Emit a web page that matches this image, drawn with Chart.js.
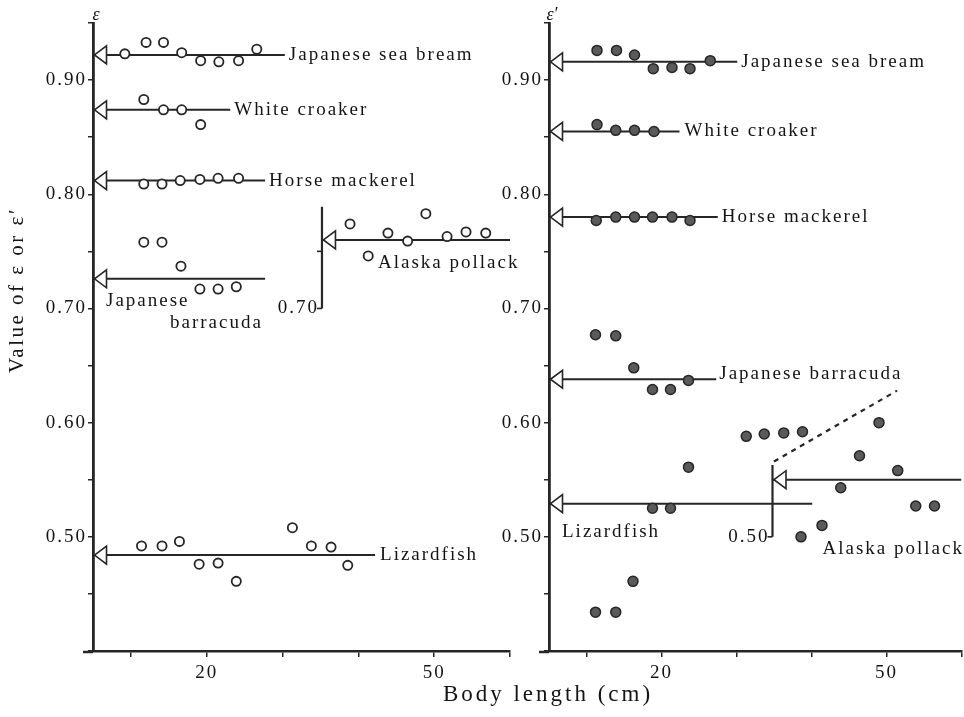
<!DOCTYPE html>
<html>
<head>
<meta charset="utf-8">
<script src="https://cdn.jsdelivr.net/npm/chart.js@4.4.1/dist/chart.umd.min.js"></script>
<style>
  html, body { margin: 0; padding: 0; background: #fff; overflow: hidden; }
  #wrap { position: relative; width: 964px; height: 717px; overflow: hidden; }
  #wrap canvas { position: absolute; left: 0; top: 0; }
</style>
</head>
<body>
<div id="wrap">
  <canvas id="panelE" width="964" height="717"></canvas>
  <canvas id="panelEP" width="968" height="717"></canvas>
</div>
<script>
// ---- axis ticks ----
const lengthTicks = [10, 20, 30, 40, 50, 60];
const lengthLabels = [20, 50];
const epsTicks = [0.40, 0.45, 0.50, 0.55, 0.60, 0.65, 0.70, 0.75, 0.80, 0.85, 0.90, 0.95];
const epsLabels = [0.50, 0.60, 0.70, 0.80, 0.90];

// ---- species (same order in every array below) ----
const species = ['Japanese sea bream', 'White croaker', 'Horse mackerel',
                 'Japanese barracuda', 'Alaska pollack', 'Lizardfish'];

// ---- ε : body length (cm) and value, open circles ----
const eSeaBreamLen = [9.2, 12.0, 14.3, 16.7, 19.2, 21.6, 24.2, 26.6];
const eSeaBream    = [0.923, 0.933, 0.933, 0.924, 0.917, 0.916, 0.917, 0.927];
const eCroakerLen  = [11.7, 14.3, 16.7, 19.2];
const eCroaker     = [0.883, 0.874, 0.874, 0.861];
const eMackerelLen = [11.7, 14.1, 16.5, 19.1, 21.5, 24.2];
const eMackerel    = [0.809, 0.809, 0.812, 0.813, 0.814, 0.814];
const eBarracudaLen = [11.7, 14.1, 16.6, 19.1, 21.5, 23.9];
const eBarracuda    = [0.758, 0.758, 0.737, 0.717, 0.717, 0.719];
const ePollackLen  = [38.9, 41.3, 43.9, 46.5, 48.9, 51.7, 54.2, 56.8];
const ePollack     = [0.774, 0.746, 0.766, 0.759, 0.783, 0.763, 0.767, 0.766];
const eLizardLen   = [11.4, 14.1, 16.4, 19.0, 21.5, 23.9, 31.3, 33.8, 36.4, 38.6];
const eLizard      = [0.492, 0.492, 0.496, 0.476, 0.477, 0.461, 0.508, 0.492, 0.491, 0.475];
// mean ε per species and the body-length span of its reference line
const eMean     = [0.922, 0.874, 0.812, 0.726, 0.760, 0.484];
const eLineFrom = [5, 5, 5, 5, 35.2, 5];
const eLineTo   = [30.3, 23.1, 27.7, 27.7, 60, 42.2];
// Alaska pollack sub-axis (cm, from, to) and its ticks
const eSubAxis  = [35.2, 0.70, 0.789];
const eSubTicks = [0.70, 0.75];

// ---- ε′ : body length (cm) and value, filled circles ----
const pSeaBreamLen = [11.4, 14.0, 16.4, 18.9, 21.4, 23.8, 26.5];
const pSeaBream    = [0.926, 0.926, 0.922, 0.910, 0.911, 0.910, 0.917];
const pCroakerLen  = [11.4, 13.9, 16.4, 19.0];
const pCroaker     = [0.861, 0.856, 0.856, 0.855];
const pMackerelLen = [11.3, 13.9, 16.4, 18.8, 21.4, 23.8];
const pMackerel    = [0.777, 0.780, 0.780, 0.780, 0.780, 0.777];
const pBarracudaLen = [11.2, 13.9, 16.3, 18.8, 21.2, 23.6];
const pBarracuda    = [0.677, 0.676, 0.648, 0.629, 0.629, 0.637];
const pPollackLen  = [38.6, 41.4, 43.9, 46.4, 49.0, 51.5, 53.9, 56.4];
const pPollack     = [0.500, 0.510, 0.543, 0.571, 0.600, 0.558, 0.527, 0.527];
const pLizardLen   = [11.2, 13.9, 16.2, 18.8, 21.2, 23.6, 31.3, 33.7, 36.3, 38.8];
const pLizard      = [0.434, 0.434, 0.461, 0.525, 0.525, 0.561, 0.588, 0.590, 0.591, 0.592];
const pMean     = [0.916, 0.855, 0.780, 0.638, 0.550, 0.529];
const pLineFrom = [5, 5, 5, 5, 34.8, 5];
const pLineTo   = [30.1, 22.4, 27.5, 27.3, 60, 40.1];
const pSubAxis  = [34.8, 0.50, 0.563];
const pSubTicks = [0.50];
// dashed continuation of the Alaska pollack sub-axis
const pDashLen  = [35.0, 51.4];
const pDashVal  = [0.566, 0.628];

const INK = '#262626';
const TEXT = '#141414';
const SERIF = "'Liberation Serif', 'Times New Roman', serif";
Chart.defaults.font.family = SERIF;
Chart.defaults.font.size = 19;
Chart.defaults.color = TEXT;

const pts = (xs, ys) => xs.map((v, i) => ({ x: v, y: ys[i] }));
const isLabelled = (list, v) => list.some(l => Math.abs(l - v) < 1e-6);

// wide, spaced lettering for every text on the canvas
const spacing = {
  id: 'spacing',
  beforeDraw(chart) { chart.ctx.letterSpacing = '2px'; }
};

// arrow heads on the reference lines, species names, sub-axis ticks, titles
const annotate = {
  id: 'annotate',
  afterDatasetsDraw(chart, args, o) {
    const { ctx, chartArea, scales: { x, y } } = chart;
    ctx.save();
    ctx.letterSpacing = '2px';
    ctx.strokeStyle = INK;
    ctx.fillStyle = TEXT;

    // length axis runs a little past the value axis
    ctx.lineWidth = 2.5;
    ctx.beginPath();
    ctx.moveTo(chartArea.left - 10, chartArea.bottom + 1);
    ctx.lineTo(chartArea.left, chartArea.bottom + 1);
    ctx.stroke();

    // sub-axis ticks and its label
    const sx = x.getPixelForValue(o.sub[0]);
    ctx.lineWidth = 1.6;
    o.subTicks.forEach(t => {
      const ty = y.getPixelForValue(t);
      ctx.beginPath(); ctx.moveTo(sx - 5, ty); ctx.lineTo(sx, ty); ctx.stroke();
    });
    ctx.font = '19px ' + SERIF;
    ctx.textAlign = 'right';
    ctx.textBaseline = 'middle';
    ctx.fillText(o.subTicks[0].toFixed(2), sx - 3, y.getPixelForValue(o.subTicks[0]));

    // open arrow heads at the start of each reference line
    ctx.lineWidth = 1.6;
    o.mean.forEach((m, i) => {
      const px = x.getPixelForValue(o.from[i]) + 1.5, py = y.getPixelForValue(m);
      ctx.beginPath();
      ctx.moveTo(px, py);
      ctx.lineTo(px + 12, py - 9);
      ctx.lineTo(px + 12, py + 9);
      ctx.closePath();
      ctx.fillStyle = '#fff'; ctx.fill();
      ctx.stroke();
    });

    // species names
    ctx.fillStyle = TEXT;
    ctx.textAlign = 'left';
    o.labels.forEach(([text, i, anchor, dx, dy]) => {
      const ax = anchor === 'end' ? o.to[i] : o.from[i];
      ctx.fillText(text, x.getPixelForValue(ax) + dx, y.getPixelForValue(o.mean[i]) + dy);
    });

    // symbol at the top of the value axis
    ctx.font = 'italic 18px ' + SERIF;
    ctx.textAlign = 'center';
    ctx.letterSpacing = '0px';
    ctx.fillText(o.symbol, chartArea.left + 3, chartArea.top - 8);

    if (o.titles) {
      ctx.font = '23px ' + SERIF;
      ctx.letterSpacing = '3px';
      ctx.textAlign = 'center';
      ctx.fillText('Body length (cm)', 548, 695);
      ctx.save();
      ctx.translate(17, 290);
      ctx.rotate(-Math.PI / 2);
      ctx.font = '21px ' + SERIF;
      ctx.letterSpacing = '2.5px';
      ctx.fillText('Value of \u03b5 or \u03b5\u2032', 0, 0);
      ctx.restore();
    }
    ctx.restore();
  }
};

function panel(canvasId, p) {
  const datasets = [];
  p.series.forEach(([xs, ys], i) => datasets.push({
    label: species[i], data: pts(xs, ys), order: 1, showLine: false,
    pointRadius: p.radius, pointBackgroundColor: p.fill, backgroundColor: p.fill,
    pointBorderColor: INK, borderColor: INK, pointBorderWidth: p.edge
  }));
  p.mean.forEach((m, i) => datasets.push({
    label: species[i] + ' mean', data: [{ x: p.from[i], y: m }, { x: p.to[i], y: m }],
    order: 2, showLine: true, pointRadius: 0, borderColor: INK, borderWidth: 2
  }));
  datasets.push({
    label: 'sub-axis', data: [{ x: p.sub[0], y: p.sub[1] }, { x: p.sub[0], y: p.sub[2] }],
    order: 3, showLine: true, pointRadius: 0, borderColor: INK, borderWidth: 2.2
  });
  if (p.dash) datasets.push({
    label: 'sub-axis break', data: pts(p.dash[0], p.dash[1]),
    order: 3, showLine: true, pointRadius: 0, borderColor: INK, borderWidth: 2.2, borderDash: [5, 5]
  });

  return new Chart(document.getElementById(canvasId), {
    type: 'scatter',
    data: { datasets },
    plugins: [spacing, annotate],
    options: {
      responsive: false,
      animation: false,
      events: [],
      layout: { padding: p.padding },
      plugins: {
        legend: { display: false },
        tooltip: { enabled: false },
        annotate: {
          mean: p.mean, from: p.from, to: p.to, sub: p.sub, subTicks: p.subTicks,
          labels: p.labels, symbol: p.symbol, titles: p.titles
        }
      },
      scales: {
        x: {
          type: 'linear', min: 5, max: 60,
          afterBuildTicks: s => { s.ticks = lengthTicks.map(v => ({ value: v })); },
          afterFit: s => { s.height = 66; },
          ticks: {
            autoSkip: false, maxRotation: 0, padding: 5,
            callback: v => isLabelled(lengthLabels, v) ? String(v) : ''
          },
          grid: { drawOnChartArea: false, drawTicks: true, tickLength: 6, lineWidth: 1.5, tickColor: INK, color: INK },
          border: { display: true, color: INK, width: 2.5 }
        },
        y: {
          type: 'linear', min: 0.40, max: 0.95,
          afterBuildTicks: s => { s.ticks = epsTicks.map(v => ({ value: v })); },
          afterFit: s => { s.width = 93; },
          ticks: {
            autoSkip: false, padding: 1,
            callback: v => isLabelled(epsLabels, v) ? v.toFixed(2) : ''
          },
          grid: { drawOnChartArea: false, drawTicks: true, tickLength: 5, lineWidth: 1.5, tickColor: INK, color: INK },
          border: { display: true, color: INK, width: 2.8 }
        }
      }
    }
  });
}

panel('panelE', {
  series: [[eSeaBreamLen, eSeaBream], [eCroakerLen, eCroaker], [eMackerelLen, eMackerel],
           [eBarracudaLen, eBarracuda], [ePollackLen, ePollack], [eLizardLen, eLizard]],
  mean: eMean, from: eLineFrom, to: eLineTo, sub: eSubAxis, subTicks: eSubTicks,
  radius: 4.6, fill: '#ffffff', edge: 1.8, symbol: '\u03b5', titles: true,
  padding: { top: 23, left: 0, right: 454, bottom: 0 },
  labels: [
    [species[0], 0, 'end', 4, 0],
    [species[1], 1, 'end', 4, 0],
    [species[2], 2, 'end', 4, 0],
    ['Japanese', 3, 'start', 13, 22],
    ['barracuda', 3, 'start', 77, 44],
    [species[4], 4, 'start', 56, 23],
    [species[5], 5, 'end', 5, 0]
  ]
});

panel('panelEP', {
  series: [[pSeaBreamLen, pSeaBream], [pCroakerLen, pCroaker], [pMackerelLen, pMackerel],
           [pBarracudaLen, pBarracuda], [pPollackLen, pPollack], [pLizardLen, pLizard]],
  mean: pMean, from: pLineFrom, to: pLineTo, sub: pSubAxis, subTicks: pSubTicks,
  dash: [pDashLen, pDashVal],
  radius: 5, fill: '#5a5a5a', edge: 1.5, symbol: '\u03b5\u2032', titles: false,
  padding: { top: 23, left: 456, right: 1, bottom: 0 },
  labels: [
    [species[0], 0, 'end', 4, 0],
    [species[1], 1, 'end', 5, 0],
    [species[2], 2, 'end', 4, 0],
    [species[3], 3, 'end', 3, -5],
    [species[4], 4, 'start', 50, 69],
    [species[5], 5, 'start', 13, 28]
  ]
});
</script>
</body>
</html>
